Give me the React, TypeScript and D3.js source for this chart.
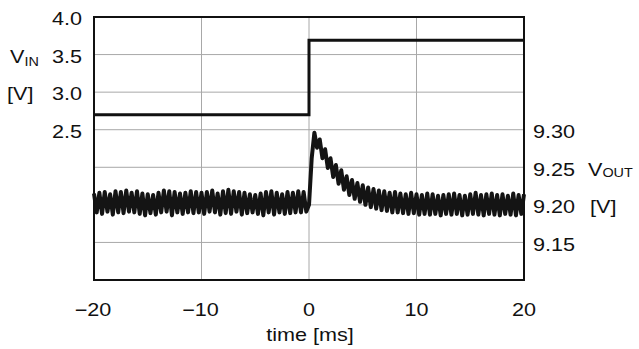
import React from "react";
import * as d3 from "d3";

// ---- data ----
const xTicks = [-20, -10, 0, 10, 20];
const xTickLabels = ["−20", "−10", "0", "10", "20"];
const vinTicks = [4.0, 3.5, 3.0, 2.5];
const vinTickLabels = ["4.0", "3.5", "3.0", "2.5"];
const voutTicks = [9.3, 9.25, 9.2, 9.15];
const voutTickLabels = ["9.30", "9.25", "9.20", "9.15"];
const gridY = [3.5, 3.0, 2.5, 2.0, 1.5, 1.0];

const vinTime = [-20, 0, 0, 20];
const vinValue = [2.7, 2.7, 3.69, 3.69];

const SAMPLE_START = -20; // ms
const SAMPLE_STEP = 0.25; // ms
const voutValue = [
  9.215, 9.19, 9.216, 9.188, 9.217, 9.191, 9.214, 9.187, 9.218, 9.19,
  9.217, 9.189, 9.219, 9.191, 9.216, 9.19, 9.218, 9.188, 9.215, 9.186,
  9.214, 9.189, 9.213, 9.187, 9.216, 9.19, 9.219, 9.191, 9.218, 9.186,
  9.217, 9.19, 9.215, 9.188, 9.216, 9.19, 9.218, 9.189, 9.217, 9.19,
  9.216, 9.188, 9.217, 9.191, 9.219, 9.19, 9.215, 9.187, 9.218, 9.189,
  9.22, 9.188, 9.218, 9.191, 9.217, 9.187, 9.216, 9.189, 9.214, 9.19,
  9.213, 9.188, 9.215, 9.186, 9.217, 9.19, 9.218, 9.187, 9.216, 9.19,
  9.214, 9.188, 9.217, 9.189, 9.216, 9.19, 9.218, 9.19, 9.217, 9.191,
  9.2,
  9.262, 9.296, 9.276, 9.287, 9.262, 9.274, 9.249, 9.262, 9.237, 9.253,
  9.228, 9.246, 9.22, 9.238, 9.213, 9.233, 9.208, 9.229, 9.204, 9.226,
  9.2, 9.223, 9.197, 9.221, 9.195, 9.219, 9.193, 9.218, 9.192, 9.216,
  9.19, 9.217, 9.19, 9.215, 9.189, 9.214, 9.188, 9.216, 9.189, 9.214,
  9.187, 9.213, 9.188, 9.215, 9.187, 9.214, 9.188, 9.212, 9.186, 9.213,
  9.188, 9.214, 9.187, 9.215, 9.188, 9.213, 9.186, 9.212, 9.187, 9.214,
  9.188, 9.216, 9.187, 9.213, 9.186, 9.214, 9.188, 9.215, 9.187, 9.213,
  9.186, 9.214, 9.188, 9.212, 9.187, 9.215, 9.186, 9.213, 9.188, 9.214,
];

// ---- layout ----
const W = 639;
const H = 349;
const L = 94, R = 524, T = 17, B = 280;
const FONT = "'Liberation Sans', Arial, Helvetica, sans-serif";
const SX = 1.2;

function Txt({ x, y, anchor = "start", size = 18, children }: any) {
  return (
    <text
      transform={`translate(${x},${y}) scale(${SX},1)`}
      textAnchor={anchor}
      fontSize={size}
      fontFamily={FONT}
      fill="#111"
    >
      {children}
    </text>
  );
}

export default function App() {
  const x = d3.scaleLinear().domain([-20, 20]).range([L, R]);
  const yL = d3.scaleLinear().domain([0.5, 4.0]).range([B, T]);
  const yR = d3.scaleLinear().domain([9.1, 9.45]).range([B, T]);

  const vinLine = d3
    .line<number>()
    .x((_, i) => x(vinTime[i]))
    .y((d) => yL(d));
  const voutLine = d3
    .line<number>()
    .x((_, i) => x(SAMPLE_START + i * SAMPLE_STEP))
    .y((d) => yR(d));

  return (
    <svg
      width={W}
      height={H}
      style={{ position: "absolute", left: 0, top: 0, background: "#fff" }}
    >
      <rect x={0} y={0} width={W} height={H} fill="#fff" />
      {/* grid */}
      {xTicks.slice(1, -1).map((t) => (
        <line key={"gx" + t} x1={x(t)} x2={x(t)} y1={T} y2={B} stroke="#a8a8a8" strokeWidth={1} />
      ))}
      {gridY.map((v) => (
        <line key={"gy" + v} x1={L} x2={R} y1={yL(v)} y2={yL(v)} stroke="#a8a8a8" strokeWidth={1} />
      ))}
      {/* traces */}
      <path d={vinLine(vinValue) || ""} fill="none" stroke="#111" strokeWidth={3} strokeLinejoin="miter" />
      <path
        d={voutLine(voutValue) || ""}
        fill="none"
        stroke="#141414"
        strokeWidth={4}
        strokeLinejoin="round"
      />
      {/* frame */}
      <rect x={L} y={T} width={R - L} height={B - T} fill="none" stroke="#111" strokeWidth={2} />

      {/* left axis labels */}
      {vinTicks.map((v, i) => (
        <Txt key={"l" + v} x={82} y={yL(v) + 8} anchor="end">
          {vinTickLabels[i]}
        </Txt>
      ))}
      <Txt x={10} y={yL(3.5) + 8}>
        <tspan>V</tspan>
        <tspan fontSize={12} dy={3}>IN</tspan>
      </Txt>
      <Txt x={7} y={yL(3.0) + 8}>[V]</Txt>

      {/* right axis labels */}
      {voutTicks.map((v, i) => (
        <Txt key={"r" + v} x={533} y={yR(v) + 8.5}>
          {voutTickLabels[i]}
        </Txt>
      ))}
      <Txt x={588} y={yR(9.25) + 8.5}>
        <tspan>V</tspan>
        <tspan fontSize={12} dy={1}>OUT</tspan>
      </Txt>
      <Txt x={590} y={yR(9.2) + 8.5}>[V]</Txt>

      {/* bottom axis labels */}
      {xTicks.map((t, i) => (
        <Txt key={"b" + t} x={x(t) - (i < 2 ? 1 : 0)} y={316} anchor="middle">
          {xTickLabels[i]}
        </Txt>
      ))}
      <Txt x={310} y={341} anchor="middle">time [ms]</Txt>
    </svg>
  );
}
